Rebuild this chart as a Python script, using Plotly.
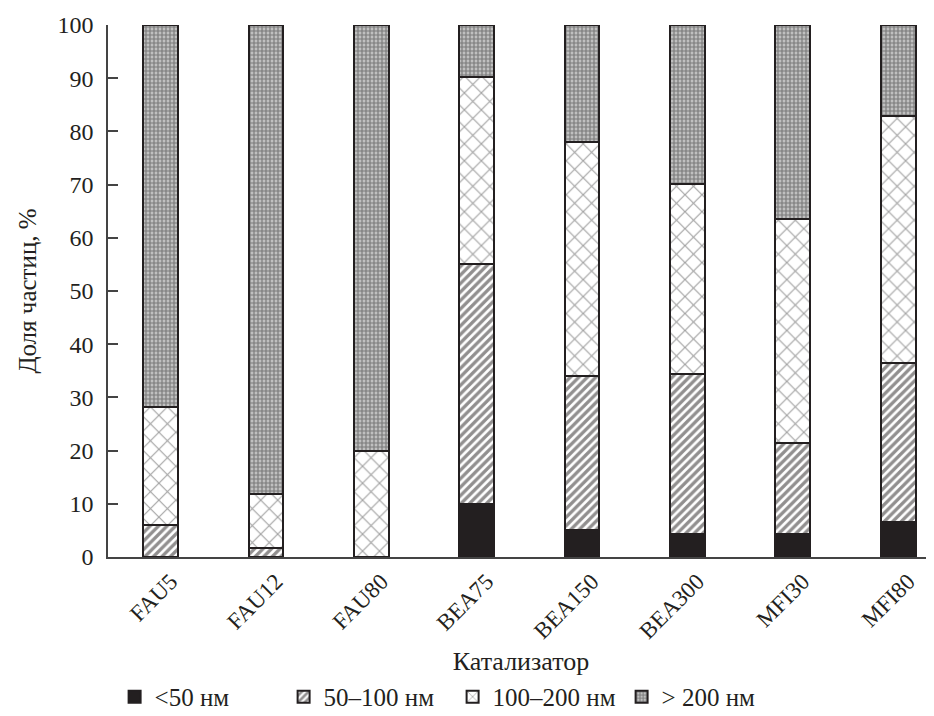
import plotly.graph_objects as go

categories = ["FAU5", "FAU12", "FAU80", "BEA75", "BEA150", "BEA300", "MFI30", "MFI80"]
lt50 = [0, 0, 0, 10.0, 5.1, 4.4, 4.3, 6.6]
s50_100 = [6.0, 1.6, 0, 45.0, 28.9, 30.0, 17.1, 29.8]
s100_200 = [22.2, 10.3, 19.9, 35.3, 44.0, 35.7, 42.2, 46.5]
gt200 = [71.8, 88.1, 80.1, 9.7, 22.0, 29.9, 36.4, 17.1]
series_names = ["<50 нм", "50\u2013100 нм", "100\u2013200 нм", "> 200 нм"]

FONT = "Liberation Serif, Times New Roman, serif"
INK = "#231f20"

styles = [
    dict(color=INK, pattern=dict(shape="")),
    dict(color="white", pattern=dict(shape="/", fgcolor=INK, bgcolor="white", size=6, solidity=0.55)),
    dict(color="white", pattern=dict(shape="x", fgcolor="#444444", bgcolor="white", size=12, solidity=0.18)),
    dict(color="white", pattern=dict(shape="+", fgcolor="#333333", bgcolor="#c0c0c0", size=4, solidity=0.5)),
]

fig = go.Figure()
for name, vals, st in zip(series_names, [lt50, s50_100, s100_200, gt200], styles):
    fig.add_trace(go.Bar(
        x=categories, y=vals, name=name, width=0.33,
        marker=dict(color=st["color"], pattern=st["pattern"],
                    line=dict(color=INK, width=2)),
    ))

fig.update_layout(
    barmode="stack",
    width=926, height=708,
    margin=dict(l=100, r=0, t=17, b=159, autoexpand=False),
    plot_bgcolor="white", paper_bgcolor="white",
    font=dict(family=FONT, size=24, color=INK),
    showlegend=True,
    legend=dict(orientation="h", x=0.008, xanchor="left", y=-0.263, yanchor="middle",
                font=dict(family=FONT, size=25, color=INK),
                traceorder="normal", entrywidth=124, itemwidth=30,
                bgcolor="rgba(0,0,0,0)"),
    xaxis=dict(
        range=[-0.5, 7.34], showline=True, linecolor="#444444", linewidth=2,
        ticks="", tickangle=-45, tickfont=dict(family=FONT, size=23),
        ticklabelshift=10,
        title=dict(text="Катализатор", font=dict(family=FONT, size=26), standoff=9),
        showgrid=False, zeroline=False, automargin=False,
    ),
    yaxis=dict(
        range=[0, 100], dtick=10, showline=True, linecolor="#444444", linewidth=1.5,
        ticks="inside", ticklen=10, tickwidth=1.5, tickcolor="#444444",
        tickfont=dict(family=FONT, size=24), ticklabelstandoff=8,
        title=dict(text="Доля частиц, %", font=dict(family=FONT, size=25), standoff=14),
        showgrid=False, zeroline=False, automargin=False,
    ),
    bargap=0,
)

fig.write_html("out.html")
